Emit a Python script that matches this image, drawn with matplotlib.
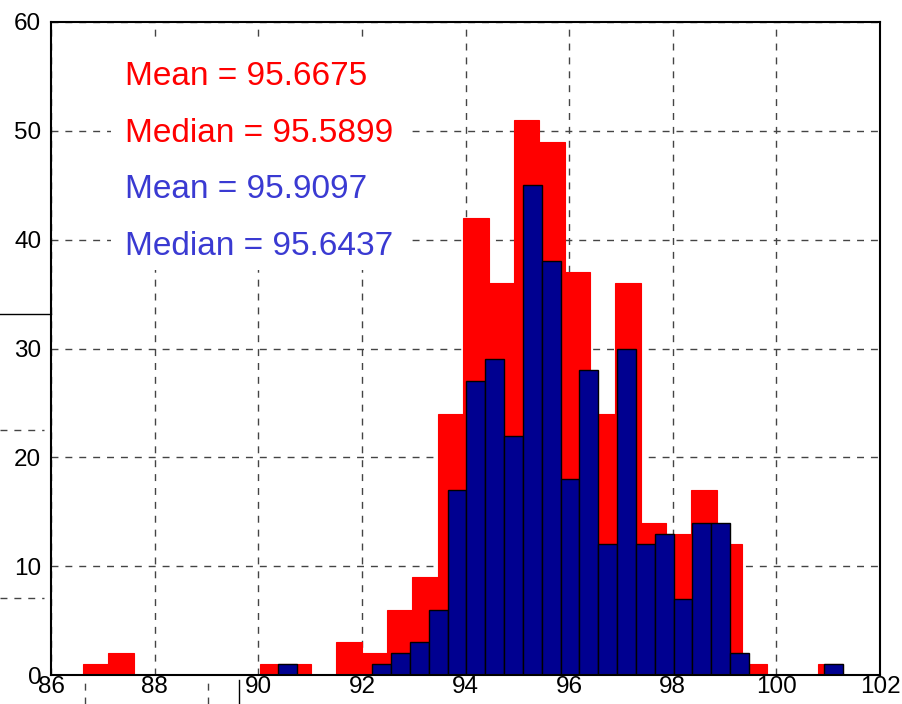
import numpy as np
import matplotlib.pyplot as plt
from matplotlib.lines import Line2D
from matplotlib import font_manager as fm

# two histograms, 30 bins each, counts
red_range = (86.62, 101.29)
red_counts = [1, 2, 0, 0, 0, 0, 0, 1, 1, 0,
              3, 2, 6, 9, 24, 42, 36, 51, 49, 37,
              24, 36, 14, 13, 17, 12, 1, 0, 0, 1]

blue_range = (90.38, 101.29)
blue_counts = [1, 0, 0, 0, 0, 1, 2, 3, 6, 17,
               27, 29, 22, 45, 38, 18, 28, 12, 30, 12,
               13, 7, 14, 14, 2, 0, 0, 0, 0, 1]

stat_labels = ["Mean = 95.6675", "Median = 95.5899",
               "Mean = 95.9097", "Median = 95.6437"]
stat_colors = ["#ff0000", "#ff0000", "#3a3ad2", "#3a3ad2"]

x_ticks = np.arange(86, 103, 2)
y_ticks = np.arange(0, 61, 10)

plt.rcParams["font.family"] = ["Liberation Sans", "DejaVu Sans"]


def pick_text_font():
    # narrow face if there is one, else plain Arial-like at a smaller size
    try:
        p = fm.findfont(fm.FontProperties(family="Liberation Sans Narrow"),
                        fallback_to_default=False)
        if "Narrow" in p:
            return "Liberation Sans Narrow", 27
    except ValueError:
        pass
    return "Liberation Sans", 24


def draw_hist(ax, rng, counts, face, edge, lw):
    edges = np.linspace(rng[0], rng[1], len(counts) + 1)
    ax.bar(edges[:-1], counts, width=np.diff(edges), align="edge",
           color=face, edgecolor=edge, linewidth=lw, zorder=3)


fig = plt.figure(figsize=(9.03, 7.04), dpi=100)
ax = fig.add_axes([51 / 903, 29 / 704, 829 / 903, 653 / 704])

draw_hist(ax, red_range, red_counts, "#ff0000", "#ff0000", 0.8)
draw_hist(ax, blue_range, blue_counts, "#000090", "black", 1.0)

ax.set_xlim(86, 102)
ax.set_ylim(0, 60)
ax.set_xticks(x_ticks)
ax.set_yticks(y_ticks)
ax.tick_params(direction="in", length=0, labelsize=17.5)
ax.tick_params(axis="x", pad=1)
ax.tick_params(axis="y", pad=7)
ax.grid(True, linestyle=(0, (5, 5)), color="#444444", linewidth=1.0, zorder=1)
ax.set_axisbelow(True)
for sp in ax.spines.values():
    sp.set_linewidth(1.5)
    sp.set_zorder(5)

# white box behind the stats text
ax.add_patch(plt.Rectangle((87.15, 37.2), 5.7, 21.2, facecolor="white",
                           edgecolor="none", zorder=2))
fam, size = pick_text_font()
y_base = [54.2, 49.0, 43.8, 38.6]
for lab, col, yy in zip(stat_labels, stat_colors, y_base):
    ax.text(87.43, yy, lab, color=col, fontsize=size, family=fam,
            va="baseline", ha="left", zorder=4)

# stray marks from an overlapped figure outside the axes
fig.add_artist(Line2D([0, 51 / 903], [1 - 314 / 704] * 2, color="black", lw=1))
for yy in [430, 598]:
    fig.add_artist(Line2D([0, 44 / 903], [1 - yy / 704] * 2, color="#444444",
                          lw=1, linestyle=(0, (5, 5))))
for xx in [85, 208]:
    fig.add_artist(Line2D([xx / 903] * 2, [0, 24 / 704], color="#444444",
                          lw=1, linestyle=(0, (5, 5))))
fig.add_artist(Line2D([239 / 903] * 2, [0, 24 / 704], color="black", lw=1))

fig.savefig("out.png", dpi=100)
